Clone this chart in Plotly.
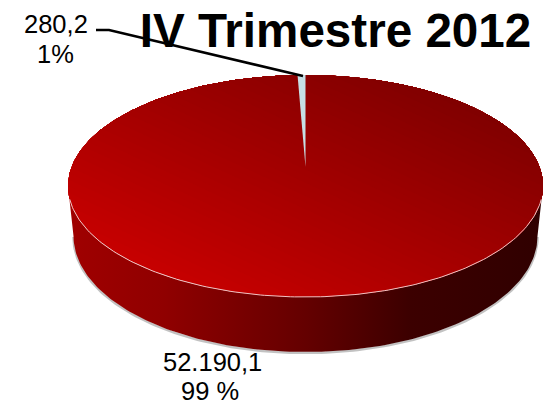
import numpy as np
import plotly.graph_objects as go

# Data
slice_values = [52190.1, 280.2]
value_labels = ["52.190,1", "280,2"]
percent_labels = ["99 %", "1%"]
chart_title = "IV Trimestre 2012"

# Geometry of the tilted disc, in plot units (pixels of the 546x405 window)
CX, CY, A, B = 305.5, 186.0, 237.5, 111.0
APEX = (305.5, 167.0)
BCX, BCY, BA, BB = 305.5, 236.0, 232.0, 116.0

share = slice_values[1] / sum(slice_values)
sweep = 2 * np.pi * share


def rim(theta, cx=CX, cy=CY, a=A, b=B):
    """theta is measured from the back of the disc, turning to the left."""
    return cx - a * np.sin(theta), cy - b * np.cos(theta)


def clip(px, py, nx, ny, t):
    """Keep the part of a polygon where nx*x + ny*y >= t."""
    xs, ys = [], []
    n = len(px)
    for i in range(n):
        x0, y0, x1, y1 = px[i], py[i], px[(i + 1) % n], py[(i + 1) % n]
        d0, d1 = nx * x0 + ny * y0 - t, nx * x1 + ny * y1 - t
        if d0 >= 0:
            xs.append(x0)
            ys.append(y0)
        if (d0 >= 0) != (d1 >= 0):
            f = d0 / (d0 - d1)
            xs.append(x0 + f * (x1 - x0))
            ys.append(y0 + f * (y1 - y0))
    return xs, ys


def lerp_color(c0, c1, f):
    return "rgb(%d,%d,%d)" % tuple(round(a + (b - a) * f) for a, b in zip(c0, c1))


fig = go.Figure()

# Soft shadow below the side wall
fa = np.linspace(np.pi / 2, 3 * np.pi / 2, 160)
sx, sy = rim(fa, BCX, BCY, BA, BB)
fig.add_trace(go.Scatter(x=sx, y=sy + 1, mode="lines", hoverinfo="skip",
                         line=dict(color="rgba(120,120,120,0.45)", width=2.5)))

# Side wall
tx, ty = rim(fa)
bx, by = rim(fa[::-1], BCX, BCY, BA, BB)
fig.add_trace(go.Scatter(
    x=np.r_[tx, bx], y=np.r_[ty, by], mode="lines", fill="toself", hoverinfo="skip",
    line=dict(width=0),
    fillgradient=dict(type="horizontal", colorscale=[
        [0.0, "#a00000"], [0.2, "#900000"], [0.5, "#640000"], [0.72, "#3c0000"], [1.0, "#300000"]]),
))

# Large slice on top, shaded in overlapping diagonal bands
main_angles = np.linspace(sweep, 2 * np.pi, 360)
mx, my = rim(main_angles)
poly_x = list(mx) + [APEX[0]]
poly_y = list(my) + [APEX[1]]
nx, ny = 0.42, -0.91
proj = nx * np.array(poly_x) + ny * np.array(poly_y)
lo, hi = proj.min(), proj.max()
bright, dark = (198, 0, 0), (128, 0, 0)
n_bands = 48
for k in range(n_bands):
    f = k / (n_bands - 1)
    xs, ys = clip(poly_x, poly_y, nx, ny, lo + (hi - lo) * f - (1 if k == 0 else 0))
    fig.add_trace(go.Scatter(x=xs, y=ys, mode="lines", fill="toself", hoverinfo="skip",
                             line=dict(width=0), fillcolor=lerp_color(bright, dark, f)))

# Small slice
wa = np.linspace(0, sweep, 12)
wx, wy = rim(wa)
fig.add_trace(go.Scatter(x=[APEX[0], *wx], y=[APEX[1], *wy], mode="lines", fill="toself",
                         hoverinfo="skip", line=dict(width=0), fillcolor="#c6dfe5"))

# Pale highlight along the front rim
ha = np.linspace(np.pi / 2 + 0.12, 3 * np.pi / 2 - 0.12, 160)
hx, hy = rim(ha)
fig.add_trace(go.Scatter(x=hx, y=hy, mode="lines", hoverinfo="skip",
                         line=dict(color="#eec4c4", width=1)))

# Leader line
fig.add_trace(go.Scatter(x=[96, 109, 303], y=[30, 30, 76], mode="lines", hoverinfo="skip",
                         line=dict(color="#000000", width=2.5)))

label_font = dict(family="Liberation Sans", size=25.5, color="#000000")
annots = [
    dict(x=56, y=24, text=value_labels[1]),
    dict(x=55, y=54, text=percent_labels[1]),
    dict(x=212, y=362, text=value_labels[0]),
    dict(x=210, y=391, text=percent_labels[0]),
]
for an in annots:
    an.update(xref="x", yref="y", showarrow=False, font=label_font, align="center",
              xanchor="center", yanchor="middle")

W, H = 546, 405
fig.update_layout(
    width=W, height=H, margin=dict(l=0, r=0, t=0, b=0),
    paper_bgcolor="white", plot_bgcolor="white", showlegend=False,
    title=dict(text=f"<b>{chart_title}</b>", x=335.5 / W, xanchor="center",
               y=1 - 30 / H, yanchor="middle",
               font=dict(family="Liberation Sans", size=47.6, color="#000000")),
    xaxis=dict(range=[0, W], visible=False, fixedrange=True),
    yaxis=dict(range=[H, 0], visible=False, fixedrange=True),
    annotations=annots,
)
fig.write_html("out.html", config=dict(displayModeBar=False),
               post_script="document.documentElement.style.overflow='hidden';document.body.style.margin='0';")
